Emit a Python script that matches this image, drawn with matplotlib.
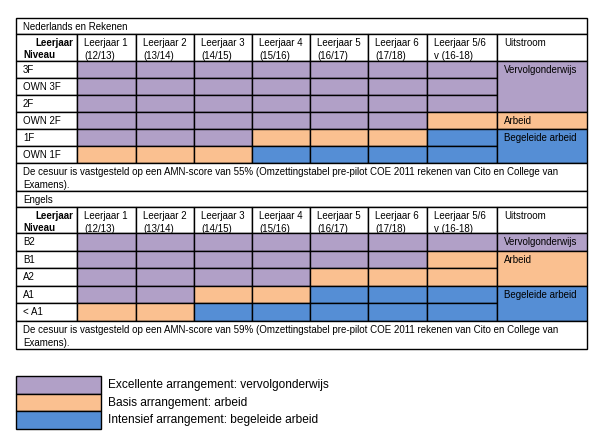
import matplotlib
matplotlib.use("Agg")
import matplotlib.pyplot as plt
from matplotlib.patches import Rectangle

plt.rcParams['font.family'] = ['Liberation Sans', 'DejaVu Sans']

# Data
columns = ["Leerjaar 1\n(12/13)", "Leerjaar 2\n(13/14)", "Leerjaar 3\n(14/15)",
           "Leerjaar 4\n(15/16)", "Leerjaar 5\n(16/17)", "Leerjaar 6\n(17/18)",
           "Leerjaar 5/6\nv (16-18)"]
colors = {"P": "#B1A0C7", "O": "#FAC090", "B": "#558ED5"}

nl_title = "Nederlands en Rekenen"
nl_levels = ["3F", "OWN 3F", "2F", "OWN 2F", "1F", "OWN 1F"]
nl_grid = ["PPPPPPP",
           "PPPPPPP",
           "PPPPPPP",
           "PPPPPPO",
           "PPPOOOB",
           "OOOBBBB"]
# (label, first row, number of rows, colour)
nl_uitstroom = [("Vervolgonderwijs", 0, 3, "P"), ("Arbeid", 3, 1, "O"), ("Begeleide arbeid", 4, 2, "B")]
nl_note = ("De cesuur is vastgesteld op een AMN-score van 55% (Omzettingstabel pre-pilot COE 2011 "
           "rekenen van Cito en College van\nExamens).")

en_title = "Engels"
en_levels = ["B2", "B1", "A2", "A1", "< A1"]
en_grid = ["PPPPPPP",
           "PPPPPPO",
           "PPPPOOO",
           "PPOOBBB",
           "OOBBBBB"]
en_uitstroom = [("Vervolgonderwijs", 0, 1, "P"), ("Arbeid", 1, 2, "O"), ("Begeleide arbeid", 3, 2, "B")]
en_note = ("De cesuur is vastgesteld op een AMN-score van 59% (Omzettingstabel pre-pilot COE 2011 "
           "rekenen van Cito en College van\nExamens).")

legend_keys = ["P", "O", "B"]
legend_labels = ["Excellente arrangement: vervolgonderwijs",
                 "Basis arrangement: arbeid",
                 "Intensief arrangement: begeleide arbeid"]

# Layout (pixels)
fig = plt.figure(figsize=(6.08, 4.40), dpi=100)
ax = fig.add_axes([0, 0, 1, 1])
ax.set_xlim(0, 608)
ax.set_ylim(440, 0)
ax.axis("off")

xedges = [16, 77, 136, 194, 252, 310, 368, 427, 497, 587]
FS = 7.0
LW = 1.0


def cell(x0, y0, x1, y1, fc="white"):
    ax.add_patch(Rectangle((x0, y0), x1 - x0, y1 - y0, facecolor=fc,
                           edgecolor="black", linewidth=LW))


def txt(x, y, s, **kw):
    ax.text(x, y, s, fontsize=FS, va="top", ha=kw.pop("ha", "left"), linespacing=1.35, **kw)


def section(top, title, levels, grid, uitstroom, note, rowh, headh):
    left, right = xedges[0], xedges[-1]
    # title row
    cell(left, top, right, top + 16)
    txt(left + 7, top + 4, title)
    # header
    hy = top + 16
    cell(xedges[0], hy, xedges[1], hy + headh)
    txt(xedges[1] - 4, hy + 4, "Leerjaar", ha="right", fontweight="bold")
    txt(xedges[0] + 7, hy + 16, "Niveau", fontweight="bold")
    for i, lab in enumerate(columns):
        cell(xedges[i + 1], hy, xedges[i + 2], hy + headh)
        txt(xedges[i + 1] + 7, hy + 4, lab)
    cell(xedges[8], hy, xedges[9], hy + headh)
    txt(xedges[8] + 7, hy + 4, "Uitstroom")
    # body
    by = hy + headh
    for r, lev in enumerate(levels):
        y0 = by + r * rowh
        cell(xedges[0], y0, xedges[1], y0 + rowh)
        txt(xedges[0] + 7, y0 + 4, lev)
        for c, k in enumerate(grid[r]):
            cell(xedges[c + 1], y0, xedges[c + 2], y0 + rowh, colors[k])
    for lab, r0, n, k in uitstroom:
        y0 = by + r0 * rowh
        cell(xedges[8], y0, xedges[9], y0 + n * rowh, colors[k])
        txt(xedges[8] + 7, y0 + 4, lab)
    ny = by + len(levels) * rowh
    cell(left, ny, right, ny + 28)
    txt(left + 7, ny + 4, note)
    return ny + 28


end1 = section(18, nl_title, nl_levels, nl_grid, nl_uitstroom, nl_note, 17.0, 27)
section(end1, en_title, en_levels, en_grid, en_uitstroom, en_note, 17.6, 26)

# legend
for i, (k, lab) in enumerate(zip(legend_keys, legend_labels)):
    y0 = 376 + i * 17.7
    ax.add_patch(Rectangle((16, y0), 85, 17.7, facecolor=colors[k], edgecolor="black", linewidth=LW))
    ax.text(108, y0 + 9, lab, fontsize=8.6, va="center", ha="left")

fig.savefig("out.png", dpi=100)
